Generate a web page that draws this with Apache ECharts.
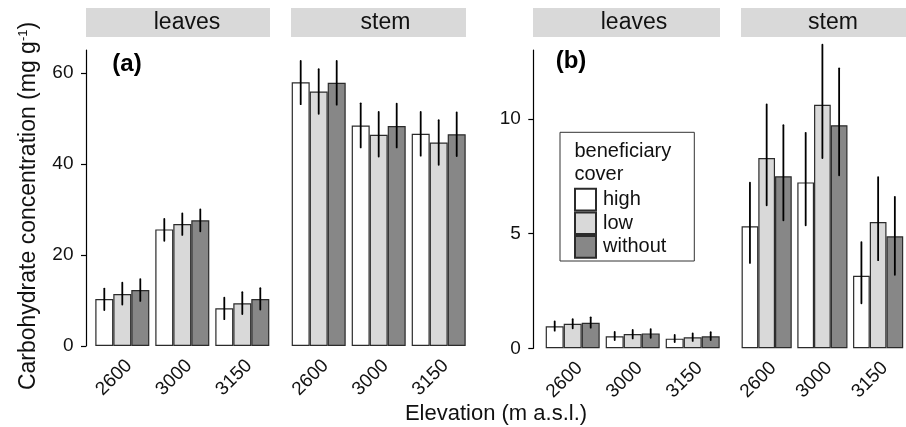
<!DOCTYPE html>
<html><head><meta charset="utf-8">
<script src="https://cdn.jsdelivr.net/npm/echarts@6/dist/echarts.min.js"></script>
<style>html,body{margin:0;padding:0;background:#fff}#c{width:906px;height:427px}</style>
</head><body><div id="c"></div>
<script>
// ---------- data ----------
const elevations = ['2600', '3000', '3150'];
const levels = ['high', 'low', 'without'];

// (a) leaves
const aLeavesHigh = [10.3, 25.6, 8.3];
const aLeavesLow = [11.4, 26.8, 9.4];
const aLeavesWithout = [12.3, 27.6, 10.3];
const aLeavesHighCI = [[7.9, 12.6], [23.1, 27.9], [5.9, 10.6]];
const aLeavesLowCI = [[9.1, 13.9], [24.4, 29.1], [7.0, 11.8]];
const aLeavesWithoutCI = [[9.9, 14.7], [25.2, 30.0], [8.0, 12.7]];
// (a) stem
const aStemHigh = [57.9, 48.4, 46.6];
const aStemLow = [55.9, 46.4, 44.7];
const aStemWithout = [57.8, 48.3, 46.5];
const aStemHighCI = [[53.1, 62.6], [43.6, 53.3], [41.8, 51.4]];
const aStemLowCI = [[51.0, 60.8], [41.6, 51.4], [39.8, 49.6]];
const aStemWithoutCI = [[53.0, 62.6], [43.6, 53.2], [41.7, 51.3]];
// (b) leaves
const bLeavesHigh = [0.96, 0.52, 0.42];
const bLeavesLow = [1.07, 0.62, 0.48];
const bLeavesWithout = [1.11, 0.65, 0.52];
const bLeavesHighCI = [[0.77, 1.17], [0.36, 0.71], [0.27, 0.58]];
const bLeavesLowCI = [[0.87, 1.27], [0.43, 0.80], [0.32, 0.65]];
const bLeavesWithoutCI = [[0.90, 1.35], [0.46, 0.84], [0.36, 0.70]];
// (b) stem
const bStemHigh = [5.32, 7.23, 3.16];
const bStemLow = [8.29, 10.61, 5.50];
const bStemWithout = [7.50, 9.72, 4.88];
const bStemHighCI = [[3.72, 7.22], [5.36, 9.39], [1.96, 4.63]];
const bStemLowCI = [[6.23, 10.63], [8.29, 13.23], [3.84, 7.46]];
const bStemWithoutCI = [[5.58, 9.72], [7.54, 12.2], [3.2, 6.6]];

const aTicks = [0, 20, 40, 60];
const bTicks = [0, 5, 10];

// ---------- styling ----------
const FONT = 'Liberation Sans, Arial, Helvetica, sans-serif';
const TXT = '#111';
const fills = ['#ffffff', '#d9d9d9', '#878787'];
const BORDER = '#2b2b2b';

function errRender(params, api) {
  const cat = api.value(0), lo = api.value(1), hi = api.value(2), k = api.value(3);
  const bw = api.size([1, 0])[0] * 0.9 / 3;
  const x = api.coord([cat, 0])[0] + (k - 1) * bw;
  const y1 = api.coord([cat, lo])[1], y2 = api.coord([cat, hi])[1];
  return { type: 'line', shape: { x1: x, y1: y1, x2: x, y2: y2 },
           style: { stroke: '#000', lineWidth: 1.8, lineCap: 'round' } };
}

function panelSeries(g, means, cis) {
  const out = [];
  levels.forEach((lv, k) => {
    out.push({
      type: 'bar', name: lv, xAxisIndex: g, yAxisIndex: g, data: means[k],
      barGap: '0%', barCategoryGap: '10%',
      itemStyle: { color: fills[k], borderColor: BORDER, borderWidth: 1.2 },
      emphasis: { disabled: true }, silent: true
    });
  });
  const err = [];
  cis.forEach((arr, k) => arr.forEach((ci, i) => err.push([i, ci[0], ci[1], k])));
  out.push({ type: 'custom', xAxisIndex: g, yAxisIndex: g, data: err,
             renderItem: errRender, encode: { x: 0, y: [1, 2] }, z: 5, silent: true });
  return out;
}

const grids = [
  { left: 92.3, top: 50, width: 180, height: 296 },
  { left: 288.7, top: 50, width: 180, height: 296 },
  { left: 542.7, top: 50, width: 180, height: 298.3 },
  { left: 738.8, top: 50, width: 180, height: 298.3 }
];

const xAxes = grids.map((g, i) => ({
  gridIndex: i, type: 'category', data: elevations,
  axisLine: { show: false }, axisTick: { show: false }, splitLine: { show: false },
  axisLabel: { rotate: 45, fontSize: 19, color: TXT, fontFamily: FONT, margin: 10,
               align: 'right', verticalAlign: 'top', interval: 0 }
}));

function yAxis(i, max, interval, ticks, show, offset, extra) {
  return Object.assign({
    gridIndex: i, type: 'value', min: 0, max: max, interval: interval, show: show, offset: offset,
    splitLine: { show: false },
    axisLine: { show: true, lineStyle: { color: '#000', width: 1.2 } },
    axisTick: { show: true, length: 5, customValues: ticks, lineStyle: { color: '#000', width: 1.2 } },
    axisLabel: { fontSize: 19, color: TXT, fontFamily: FONT, margin: 12.5, customValues: ticks }
  }, extra || {});
}

const yAxes = [
  yAxis(0, 65, 20, aTicks, true, 6.3, {
    name: 'Carbohydrate concentration (mg g{sup|-1})',
    nameLocation: 'middle', nameRotate: 90, nameGap: 46,
    nameTextStyle: { fontSize: 23, color: TXT, fontFamily: FONT, padding: [0, 16, 0, 0],
      rich: { sup: { fontSize: 13, color: TXT, fontFamily: FONT, verticalAlign: 'top', padding: [0, 0, 6, 0] } } }
  }),
  yAxis(1, 65, 20, aTicks, false, 0),
  yAxis(2, 13, 5, bTicks, true, 9.4),
  yAxis(3, 13, 5, bTicks, false, 0)
];

const series = [].concat(
  panelSeries(0, [aLeavesHigh, aLeavesLow, aLeavesWithout], [aLeavesHighCI, aLeavesLowCI, aLeavesWithoutCI]),
  panelSeries(1, [aStemHigh, aStemLow, aStemWithout], [aStemHighCI, aStemLowCI, aStemWithoutCI]),
  panelSeries(2, [bLeavesHigh, bLeavesLow, bLeavesWithout], [bLeavesHighCI, bLeavesLowCI, bLeavesWithoutCI]),
  panelSeries(3, [bStemHigh, bStemLow, bStemWithout], [bStemHighCI, bStemLowCI, bStemWithoutCI])
);

// facet strips
const strips = [
  { x: 86, w: 184, tx: 187, label: 'leaves' },
  { x: 291, w: 175, tx: 385.5, label: 'stem' },
  { x: 533, w: 187, tx: 634, label: 'leaves' },
  { x: 741, w: 180, tx: 833, label: 'stem' }
];
const graphic = [];
strips.forEach(s => {
  graphic.push({ type: 'rect', shape: { x: s.x, y: 8, width: s.w, height: 29 }, style: { fill: '#d9d9d9' }, silent: true });
  graphic.push({ type: 'text', x: s.tx, y: 23, style: { text: s.label, fill: TXT, font: '23px ' + FONT, textAlign: 'center', textVerticalAlign: 'middle' }, silent: true });
});
graphic.push({ type: 'text', x: 127, y: 64, style: { text: '(a)', fill: '#000', font: 'bold 24px ' + FONT, textAlign: 'center', textVerticalAlign: 'middle' } });
graphic.push({ type: 'text', x: 571, y: 61, style: { text: '(b)', fill: '#000', font: 'bold 24px ' + FONT, textAlign: 'center', textVerticalAlign: 'middle' } });
graphic.push({ type: 'text', x: 496, y: 414, style: { text: 'Elevation (m a.s.l.)', fill: TXT, font: '22px ' + FONT, textAlign: 'center', textVerticalAlign: 'middle' } });
// legend frame and title
graphic.push({ type: 'rect', shape: { x: 560, y: 132.3, width: 134.3, height: 128.7 }, style: { fill: 'none', stroke: '#333', lineWidth: 1 }, silent: true });
graphic.push({ type: 'text', x: 574.5, y: 140, style: { text: 'beneficiary\ncover', fill: TXT, font: '20px ' + FONT, lineHeight: 23, textAlign: 'left', textVerticalAlign: 'top' } });

const chart = echarts.init(document.getElementById('c'), null, { renderer: 'canvas' });
chart.setOption({
  animation: false,
  backgroundColor: '#fff',
  grid: grids,
  xAxis: xAxes,
  yAxis: yAxes,
  legend: {
    data: levels, orient: 'vertical', left: 574, top: 187.7, padding: 0, itemGap: 0,
    itemWidth: 21, itemHeight: 21.7, icon: 'rect', selectedMode: false,
    textStyle: { fontSize: 20, color: TXT, fontFamily: FONT, lineHeight: 21.7, padding: [0, 0, 0, 2] }
  },
  graphic: graphic,
  series: series
});
</script></body></html>
